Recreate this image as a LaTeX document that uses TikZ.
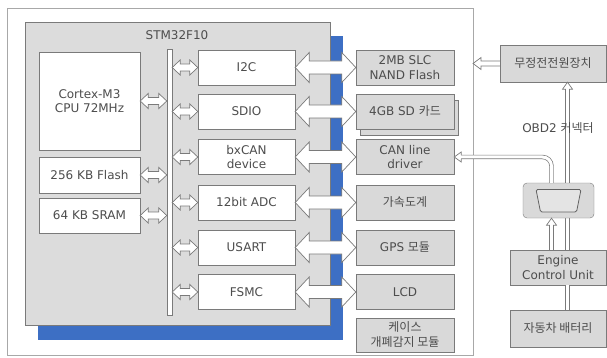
\documentclass[tikz,border=0pt]{standalone}
\usepackage{fontspec}
\setmainfont{DejaVu Sans}
\newfontfamily\krfont{Noto Sans CJK KR}
\usepackage{tikz}
\usetikzlibrary{calc,shadows}
\definecolor{framegray}{HTML}{A8A8A8}
\definecolor{boxline}{HTML}{7A7A7A}
\definecolor{chipgray}{HTML}{DCDCDC}
\definecolor{extgray}{HTML}{D9D9D9}
\definecolor{chipblue}{HTML}{3D6FC4}
\definecolor{txtgray}{HTML}{4D4D4D}

% hollow link with a head at both ends: from, to, shaft half, head half, head length
\newcommand{\fatlink}[5]{%
  \coordinate (headA) at ($(#1)!#5!(#2)$);
  \coordinate (headB) at ($(#2)!#5!(#1)$);
  \filldraw[linkarrow] (#1) -- ($(headA)!#4!90:(#2)$) -- ($(headA)!#3!90:(#2)$)
    -- ($(headB)!#3!90:(#2)$) -- ($(headB)!#4!90:(#2)$) -- (#2)
    -- ($(headB)!#4!-90:(#2)$) -- ($(headB)!#3!-90:(#2)$)
    -- ($(headA)!#3!-90:(#2)$) -- ($(headA)!#4!-90:(#2)$) -- cycle;}
% hollow link with one head, open at its tail
\newcommand{\openlink}[5]{%
  \coordinate (headB) at ($(#2)!#5!(#1)$);
  \filldraw[linkarrow] ($(#1)!#3!90:(#2)$) -- ($(headB)!#3!90:(#2)$)
    -- ($(headB)!#4!90:(#2)$) -- (#2) -- ($(headB)!#4!-90:(#2)$)
    -- ($(headB)!#3!-90:(#2)$) -- ($(#1)!#3!-90:(#2)$);}

\begin{document}
\begin{tikzpicture}[x=1pt,y=-1pt,
    font=\fontsize{12}{14.5}\selectfont,
    every node/.style={text=txtgray,align=center,inner sep=1pt},
    whitebox/.style={draw=boxline,fill=white,minimum width=97pt,minimum height=35pt},
    extbox/.style={draw=boxline,fill=extgray,minimum width=98pt,minimum height=35pt},
    linkarrow/.style={draw=boxline,fill=white,line width=0.7pt},
    dline/.style={draw=boxline,double=white,double distance=3pt,line width=0.7pt}]
  \useasboundingbox (0,0) rectangle (607,358);

  % board frame
  \draw[framegray] (7,8) rectangle (473,355);

  % MCU with its blue shadow
  \fill[chipblue] (38,36) rectangle (343,340);
  \node[draw=boxline,fill=chipgray,minimum width=305pt,minimum height=303pt]
    (chip) at (177.5,173.5) {};
  \node (chiptitle) at (177,35) {STM32F10};

  % core and memories
  \node[whitebox,minimum width=101pt,minimum height=98pt] (cpu) at (89.5,101)
    {Cortex-M3\\CPU 72MHz};
  \node[whitebox,minimum width=101pt,minimum height=36pt] (flash) at (89.5,175)
    {256 KB Flash};
  \node[whitebox,minimum width=101pt,minimum height=35pt] (sram) at (89.5,215.5)
    {64 KB SRAM};

  % internal bus
  \node[whitebox,minimum width=5pt,minimum height=266pt,inner sep=0pt] (bus)
    at (169.5,182) {};

  % peripherals
  \node[whitebox] (i2c) at (246.5,67.5) {I2C};
  \node[whitebox] (sdio) at (246.5,111.5) {SDIO};
  \node[whitebox] (bxcan) at (246.5,157) {bxCAN\\device};
  \node[whitebox] (adc) at (246.5,202.5) {12bit ADC};
  \node[whitebox] (usart) at (246.5,247.5) {USART};
  \node[whitebox] (fsmc) at (246.5,292) {FSMC};

  % external parts
  \node[extbox] (nand) at (405,67.5) {2MB SLC\\NAND Flash};
  \node[extbox,copy shadow={shadow xshift=4pt,shadow yshift=-6pt}] (sdcard)
    at (405,111.5) {4GB SD {\krfont 카드}};
  \node[extbox] (candrv) at (405,157) {CAN line\\driver};
  \node[extbox] (accel) at (405,202.5) {\krfont 가속도계};
  \node[extbox] (gps) at (405,247.5) {GPS {\krfont 모듈}};
  \node[extbox] (lcd) at (405,292) {LCD};
  \node[extbox,minimum height=34pt,font=\fontsize{12}{15}\krfont] (casesw)
    at (405,335) {케이스\\개폐감지 모듈};

  % bus links
  \fatlink{cpu.east}{cpu.east -| bus.west}{3.5pt}{7.5pt}{8pt}
  \fatlink{flash.east}{flash.east -| bus.west}{3.5pt}{7.5pt}{8pt}
  \fatlink{sram.east}{sram.east -| bus.west}{3.5pt}{7.5pt}{8pt}
  \fatlink{i2c.west -| bus.east}{i2c.west}{3.5pt}{7.5pt}{8pt}
  \fatlink{sdio.west -| bus.east}{sdio.west}{3.5pt}{7.5pt}{8pt}
  \fatlink{bxcan.west -| bus.east}{bxcan.west}{3.5pt}{7.5pt}{8pt}
  \fatlink{adc.west -| bus.east}{adc.west}{3.5pt}{7.5pt}{8pt}
  \fatlink{usart.west -| bus.east}{usart.west}{3.5pt}{7.5pt}{8pt}
  \fatlink{fsmc.west -| bus.east}{fsmc.west}{3.5pt}{7.5pt}{8pt}

  % peripheral links
  \fatlink{i2c.east}{nand.west}{6.5pt}{15pt}{14pt}
  \fatlink{sdio.east}{sdcard.west}{6.5pt}{15pt}{14pt}
  \fatlink{bxcan.east}{candrv.west}{6.5pt}{15pt}{14pt}
  \fatlink{adc.east}{accel.west}{6.5pt}{15pt}{14pt}
  \fatlink{usart.east}{gps.west}{6.5pt}{15pt}{14pt}
  \fatlink{fsmc.east}{lcd.west}{6.5pt}{15pt}{14pt}

  % vehicle side
  \node[extbox,minimum width=106pt,minimum height=37pt] (ups) at (553,63.5)
    {\krfont 무정전전원장치};
  \node[extbox,minimum width=96pt,minimum height=35pt] (ecu) at (558,267.5)
    {Engine\\Control Unit};
  \node[extbox,minimum width=96pt,minimum height=37pt] (battery) at (558,328.5)
    {\krfont 자동차 배터리};
  \coordinate (framehit) at (473,63.5);
  \coordinate (upsfeed) at ([xshift=14.5pt]ups.south);
  \openlink{ups.west}{framehit}{2.5pt}{6pt}{8pt}
  \openlink{ecu.north -| upsfeed}{upsfeed}{2pt}{5pt}{7pt}
  \draw[dline] (battery.north -| upsfeed) -- (ecu.south -| upsfeed);
  \node (obdlabel) at (558,128) {OBD2 {\krfont 커넥터}};

  % OBD2 connector
  \node[draw=boxline,fill=extgray,rounded corners=4pt,minimum width=71pt,
    minimum height=35pt] (obd) at (558.5,200.5) {};
  \filldraw[draw=boxline!80!black,fill=extgray!70!white,line width=0.8pt,
    rounded corners=1.5pt]
    ([shift={(-22.5,-11)}]obd.center) -- ([shift={(22.5,-11)}]obd.center)
    -- ([shift={(18,11.5)}]obd.center) -- ([shift={(-18,11.5)}]obd.center) -- cycle;
  \coordinate (canup) at ([xshift=-7pt]obd.north);
  \coordinate (cantip) at ([xshift=7pt]candrv.east);
  \draw[dline,rounded corners=9pt] (canup) |- (cantip);
  \openlink{cantip}{candrv.east}{1.9pt}{5pt}{7pt}
  \openlink{ecu.north -| canup}{obd.south -| canup}{2pt}{5pt}{7pt}
\end{tikzpicture}
\end{document}
